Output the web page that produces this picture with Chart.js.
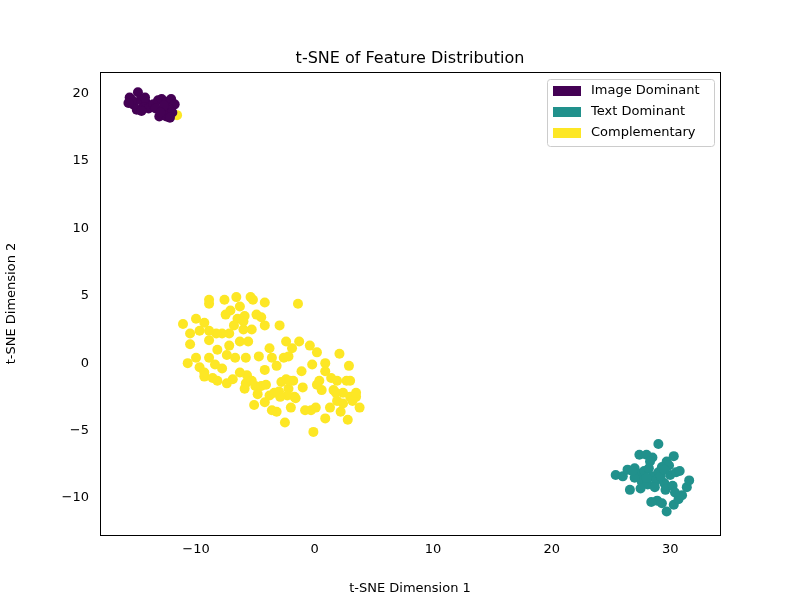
<!DOCTYPE html>
<html>
<head>
<meta charset="utf-8">
<script src="https://cdn.jsdelivr.net/npm/chart.js@4"></script>
<style>
  body { margin: 0; background: #fff; }
  #wrap { width: 800px; height: 600px; }
</style>
</head>
<body>
<div id="wrap"><canvas id="c" width="800" height="600"></canvas></div>
<script>
// Cluster labels and colours (viridis)
const labels = ['Image Dominant', 'Text Dominant', 'Complementary'];
const colors = ['#440154', '#21918c', '#fde725'];
const xTicks = [-10, 0, 10, 20, 30];
const yTicks = [-10, -5, 0, 5, 10, 15, 20];

// Image Dominant points [x, y]
const imagePts = [
  [-15.6,19.7],[-15.3,19.2],[-14.9,20.1],[-14.7,19.5],[-14.5,18.9],[-15,18.8],[-14.2,19.3],
  [-14,18.9],[-15.4,19.5],[-14.6,18.7],[-13.6,19.2],[-13.2,19.5],[-12.9,19.6],[-12.5,19.4],
  [-12.1,19.6],[-11.8,19.2],[-12.3,18.9],[-12.8,18.7],[-13.1,18.3],[-12.5,18.3],[-12,18.6],
  [-13.4,18.9],[-12.7,19.1],[-14.3,19.7],[-15.7,19.3],[-13.0,18.6],[-12.2,18.2]
];

// Text Dominant points
const textPts = [
  [25.4,-8.3],[26,-8.4],[26.6,-9.4],[27,-7.8],[27.4,-6.8],[28,-6.8],[28.5,-7],[29,-6],
  [29.7,-7.3],[30.3,-6.9],[27.3,-8.2],[27.8,-8.0],[28.2,-7.8],[28.5,-8.4],[29,-8.1],
  [29.3,-7.7],[28.8,-8.7],[29.5,-8.9],[30,-8.3],[30.5,-8.1],[30.8,-8.0],[27.6,-8.8],
  [28.1,-9.0],[28.7,-9.2],[29.6,-9.4],[30.2,-9.1],[28.9,-10.2],[29.3,-10.4],[29.7,-11.0],
  [30.3,-10.5],[30.7,-10.1],[31,-9.8],[31.4,-9.2],[31.6,-8.7],[26.4,-7.9],[27,-8.5],
  [28.3,-7.3],[29.9,-7.6],[30.4,-9.6],[28.4,-10.3],[27.5,-9.3],[29.2,-8.4],[28.0,-8.5],
  [26.8,-8.0],[29.5,-7.9]
];

// Complementary points
const compPts = [
  [-11.1,2.9],[-10.5,2.2],[-10,3.3],[-8.9,4.4],[-8.9,4.7],[-7.6,4.7],[-6.6,4.9],[-5.4,4.9],
  [-5.2,4.7],[-4.2,4.5],[-1.4,4.4],[-10.5,1.4],[-10.7,0],[-10,0.4],[-9.7,-0.3],[-9.3,-1],
  [-8.6,-1.1],[-8.4,-0.1],[-7.8,-0.4],[-8.2,-1.3],[-7.4,-1.5],[-6.9,-1.2],[-7.4,0.6],
  [-6.7,0.4],[-5.8,0.4],[-4.7,0.5],[-5.7,-0.9],[-5.0,-1.7],[-4.5,-1.7],[-5.9,-1.9],
  [-5.1,-3.1],[-4.2,-2.9],[-3.2,-3.6],[-3.6,-3.5],[-2.5,-4.4],[-3,-2.1],[-2.2,-1.9],
  [-1.7,-2.5],[-1,-1.8],[-2,-3.3],[-1.8,-1.3],[-2.4,-1.2],[-2.6,0.4],[-2.2,0.5],[-2.4,1.6],
  [-1.9,1.1],[-1.3,1.6],[-0.4,1.3],[0.2,0.8],[-0.2,-0.1],[0.4,-1.3],[0.2,-1.6],[-0.3,-3.5],
  [0.1,-3.3],[-0.1,-5.1],[0.9,-4.1],[1.3,-3.3],[1.9,-2.8],[2.2,-3.6],[2.8,-4.2],[3,-2.5],
  [3.5,-2.5],[3.8,-3.3],[2.7,-1.3],[0.9,-0.6],[0.9,0],[2.1,0.7],[2.9,-0.2],[3,-1.3],
  [1.6,-2.0],[2.4,-2.2],[-4.2,2.8],[-2.95,2.8],[-4.5,3.4],[-4.9,3.6],[-5.9,3.5],[-6.5,3.3],
  [-6.8,2.8],[-7.2,2.2],[-7.8,2.2],[-8.3,2.2],[-8.9,2.4],[-9.3,3],[-9.7,2.4],[-8.9,1.7],
  [-8.2,1],[-7.2,1.3],[-6.3,1.6],[-5.6,1.6],[-5.3,2.5],[-6,2.5],[-7.5,3.6],[-7.1,3.9],
  [-6.3,4.2],[-6,3.1],[-3.8,1.1],[-3.6,0.4],[-4.2,-0.5],[-3.2,-0.2],[-4.1,-1.6],[-2.8,-1.4],
  [-2.3,-2.4],[-2.9,-2.5],[-1.1,-0.6],[-1.6,-2.6],[-0.8,-3.5],[1.4,-1.1],[1.9,-1.3],
  [2.4,-3],[3.2,-2.8],[3.5,-2.2],[1.8,-2.2],[0.6,-2],[-8.9,0.4],[-9.3,-0.7],[-6.3,-0.7],
  [-5.8,-1.5],[-5.3,-1.3],[-4.8,-2.3],[-3.8,-2.4],[-3.4,-2.2],[-2.1,-1.3],[-11.6,18.4]
];

const toXY = pts => pts.map(p => ({ x: p[0], y: p[1] }));
const font = { family: 'DejaVu Sans', size: 13 };

// Frame, title and legend drawn matplotlib-style
const decor = {
  id: 'decor',
  afterDraw(chart) {
    const { ctx, chartArea: a } = chart;
    ctx.save();
    ctx.strokeStyle = '#000';
    ctx.lineWidth = 1;
    ctx.strokeRect(a.left + 0.5, a.top + 0.5, a.right - a.left, a.bottom - a.top);
    ctx.fillStyle = '#000';
    ctx.font = '16px DejaVu Sans';
    ctx.textAlign = 'center';
    ctx.textBaseline = 'bottom';
    ctx.fillText('t-SNE of Feature Distribution', (a.left + a.right) / 2, a.top - 5);

    const bx = 547, by = 79, bw = 167, bh = 67;
    ctx.fillStyle = 'rgba(255,255,255,0.8)';
    ctx.strokeStyle = '#ccc';
    ctx.beginPath();
    ctx.roundRect(bx + 0.5, by + 0.5, bw, bh, 3);
    ctx.fill(); ctx.stroke();
    ctx.font = '13px DejaVu Sans';
    ctx.textAlign = 'left';
    ctx.textBaseline = 'middle';
    labels.forEach((l, i) => {
      const y = by + 12 + i * 21;
      ctx.fillStyle = colors[i];
      ctx.fillRect(bx + 6, y - 5, 28, 10);
      ctx.fillStyle = '#000';
      ctx.fillText(l, bx + 44, y);
    });
    ctx.restore();
  }
};

new Chart(document.getElementById('c'), {
  type: 'scatter',
  data: {
    datasets: [imagePts, textPts, compPts].map((pts, i) => ({
      label: labels[i],
      data: toXY(pts),
      backgroundColor: colors[i],
      borderWidth: 0,
      pointRadius: 5,
      pointHoverRadius: 5
    }))
  },
  options: {
    responsive: false,
    animation: false,
    layout: { padding: { top: 72, right: 80, left: 0, bottom: 0 } },
    plugins: { legend: { display: false }, tooltip: { enabled: false } },
    scales: {
      x: {
        type: 'linear', min: -18.1, max: 34.2,
        afterBuildTicks: s => { s.ticks = xTicks.map(v => ({ value: v })); },
        afterFit: s => { s.height = 65; },
        grid: { display: false, drawTicks: true, tickLength: 4 },
        border: { color: '#000' },
        ticks: { color: '#000', font, maxRotation: 0, callback: v => v < 0 ? '\u2212' + (-v) : v },
        title: { display: true, text: 't-SNE Dimension 1', color: '#000', font }
      },
      y: {
        type: 'linear', min: -12.75, max: 21.6,
        afterBuildTicks: s => { s.ticks = yTicks.map(v => ({ value: v })); },
        afterFit: s => { s.width = 100; },
        grid: { display: false },
        border: { color: '#000' },
        ticks: { color: '#000', font, callback: v => v < 0 ? '\u2212' + (-v) : v },
        title: { display: true, text: 't-SNE Dimension 2', color: '#000', font }
      }
    }
  },
  plugins: [decor]
});
</script>
</body>
</html>
